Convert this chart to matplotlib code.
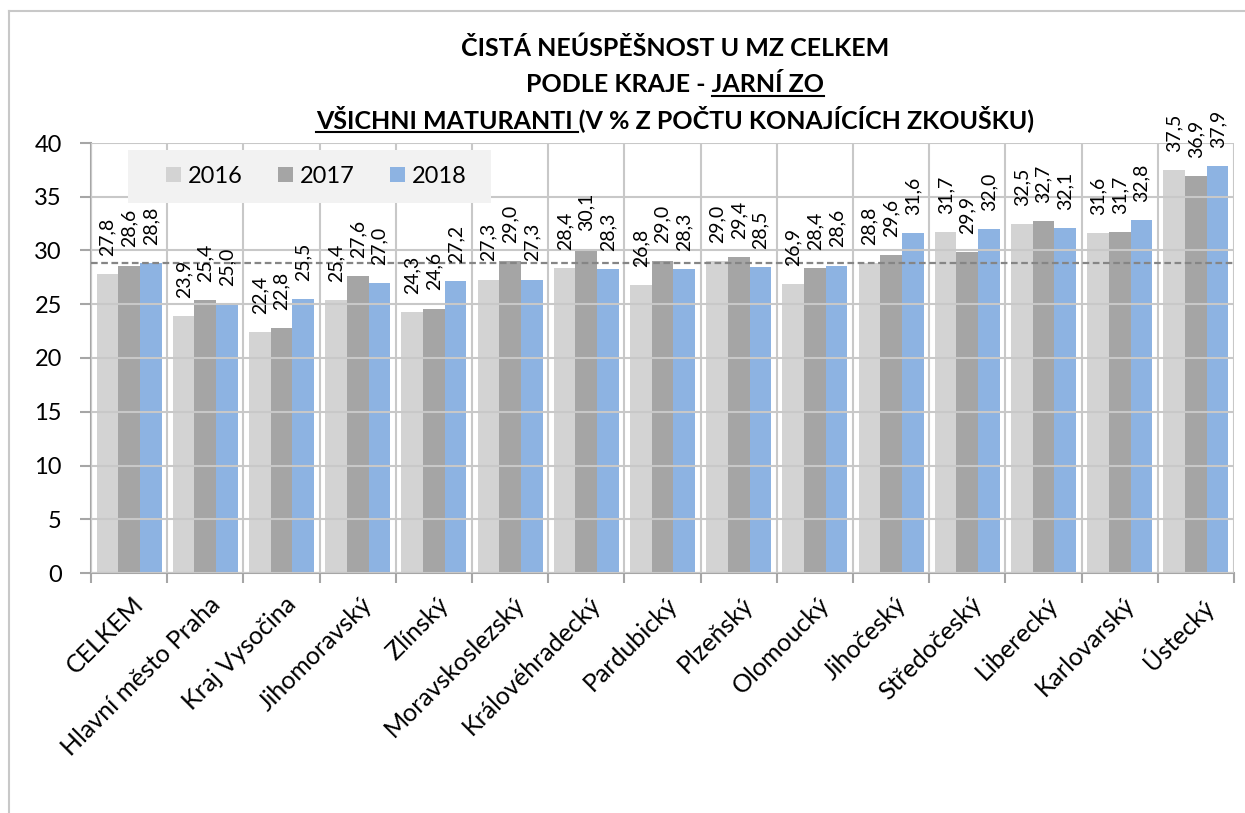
import matplotlib
matplotlib.use('Agg')
import matplotlib.pyplot as plt
import matplotlib.transforms as mtransforms
from matplotlib.lines import Line2D
from matplotlib.patches import Rectangle, Patch
import numpy as np

plt.rcParams['font.family'] = ['Lato', 'DejaVu Sans']

# data
regions = ['CELKEM', 'Hlavní město Praha', 'Kraj Vysočina', 'Jihomoravský', 'Zlínský',
           'Moravskoslezský', 'Královéhradecký', 'Pardubický', 'Plzeňský', 'Olomoucký',
           'Jihočeský', 'Středočeský', 'Liberecký', 'Karlovarský', 'Ústecký']
years = ['2016', '2017', '2018']
v2016 = [27.8, 23.9, 22.4, 25.4, 24.3, 27.3, 28.4, 26.8, 29.0, 26.9, 28.8, 31.7, 32.5, 31.6, 37.5]
v2017 = [28.6, 25.4, 22.8, 27.6, 24.6, 29.0, 30.1, 29.0, 29.4, 28.4, 29.6, 29.9, 32.7, 31.7, 36.9]
v2018 = [28.8, 25.0, 25.5, 27.0, 27.2, 27.3, 28.3, 28.3, 28.5, 28.6, 31.6, 32.0, 32.1, 32.8, 37.9]
celkem_level = 28.8  # CELKEM 2018
colors = ['#d3d3d3', '#a5a5a5', '#8db3e2']

W, H = 1245, 813
fig = plt.figure(figsize=(W / 100, H / 100), dpi=100)
ax = fig.add_axes([91 / W, 1 - 573 / H, (1234 - 91) / W, (573 - 143) / H])

x = np.arange(len(regions))
bw = 0.285
for i, (vals, c) in enumerate(zip([v2016, v2017, v2018], colors)):
    bars = ax.bar(x + (i - 1) * bw, vals, bw, color=c, zorder=1)
    ax.bar_label(bars, labels=[f'{v:.1f}'.replace('.', ',') for v in vals],
                 rotation=90, padding=13, fontsize=14, zorder=6)

# dashed reference line (CELKEM)
ax.axhline(celkem_level, color='#858585', lw=1.6, dashes=(3, 1.6), zorder=3)

ax.set_xlim(-0.5, len(regions) - 0.5)
ax.set_ylim(0, 40)
ax.set_yticks(range(0, 41, 5))
ax.set_xticks(x)
ax.set_xticklabels(regions, rotation=45, ha='right', rotation_mode='anchor')
ax.set_xticks(np.arange(-0.5, len(regions), 1), minor=True)

grid_c = '#c8c8c8'
axis_c = '#a6a6a6'
ax.tick_params(axis='x', which='major', length=0, pad=14, labelsize=18)
ax.tick_params(axis='x', which='minor', length=7, width=1.5, color=axis_c)
ax.tick_params(axis='y', length=8, width=1.5, color=axis_c, pad=13, labelsize=17)
ax.grid(axis='y', which='major', color=grid_c, lw=1.5)
ax.grid(axis='x', which='minor', color=grid_c, lw=1.5)
ax.set_axisbelow(False)
for s in ['top', 'right']:
    ax.spines[s].set_visible(False)
for s in ['left', 'bottom']:
    ax.spines[s].set_color(axis_c)
    ax.spines[s].set_linewidth(1.5)

offset = mtransforms.ScaledTranslation(3 / 100, 0, fig.dpi_scale_trans)
for lab in ax.xaxis.get_majorticklabels():
    lab.set_transform(lab.get_transform() + offset)

# legend with grey box
ax.add_patch(Rectangle((128 / W, 1 - 203 / H), (491 - 128) / W, 53 / H,
                       transform=fig.transFigure, facecolor='#f2f2f2',
                       edgecolor='none', zorder=7, clip_on=False))
handles = [Patch(facecolor=c, edgecolor='none', label=y) for c, y in zip(colors, years)]
leg = ax.legend(handles=handles, ncol=3, loc='center left',
                bbox_to_anchor=(166 / W, 1 - 176.5 / H), bbox_transform=fig.transFigure,
                frameon=False, fontsize=17, handlelength=0.62, handleheight=0.62,
                handletextpad=0.3, columnspacing=1.5, borderpad=0, borderaxespad=0)
leg.set_zorder(8)

# title, three lines with partial underline
tsize = 18
tkw = dict(fontsize=tsize, fontweight='bold', ha='center', va='baseline')
cx = 675 / W
fig.text(cx, 1 - 56 / H, 'ČISTÁ NEÚSPĚŠNOST U MZ CELKEM', **tkw)
t2 = fig.text(cx, 1 - 92 / H, 'PODLE KRAJE - JARNÍ ZO', **tkw)
t3 = fig.text(cx, 1 - 128 / H, 'VŠICHNI MATURANTI (V % Z POČTU KONAJÍCÍCH ZKOUŠKU)', **tkw)

renderer = fig.canvas.get_renderer()


def text_width(s):
    t = fig.text(0, 0, s, fontsize=tsize, fontweight='bold')
    w = t.get_window_extent(renderer).width
    t.remove()
    return w


bb2 = t2.get_window_extent(renderer)
x0 = bb2.x1 - text_width('JARNÍ ZO')
y_ul = H - 92 - 4
fig.add_artist(Line2D([x0 / W, bb2.x1 / W], [y_ul / H, y_ul / H], color='black', lw=1.5))

bb3 = t3.get_window_extent(renderer)
x1 = bb3.x1 - text_width('(V % Z POČTU KONAJÍCÍCH ZKOUŠKU)') - 1
y_ul = H - 128 - 4
fig.add_artist(Line2D([bb3.x0 / W, x1 / W], [y_ul / H, y_ul / H], color='black', lw=1.5))

# outer frame (left and top edges visible)
frame_c = '#c8c8c8'
fig.add_artist(Line2D([9 / W, 9 / W], [0, 1 - 11 / H], color=frame_c, lw=1.5))
fig.add_artist(Line2D([9 / W, 1], [1 - 11 / H, 1 - 11 / H], color=frame_c, lw=1.5))

fig.savefig('out.png', dpi=100)
